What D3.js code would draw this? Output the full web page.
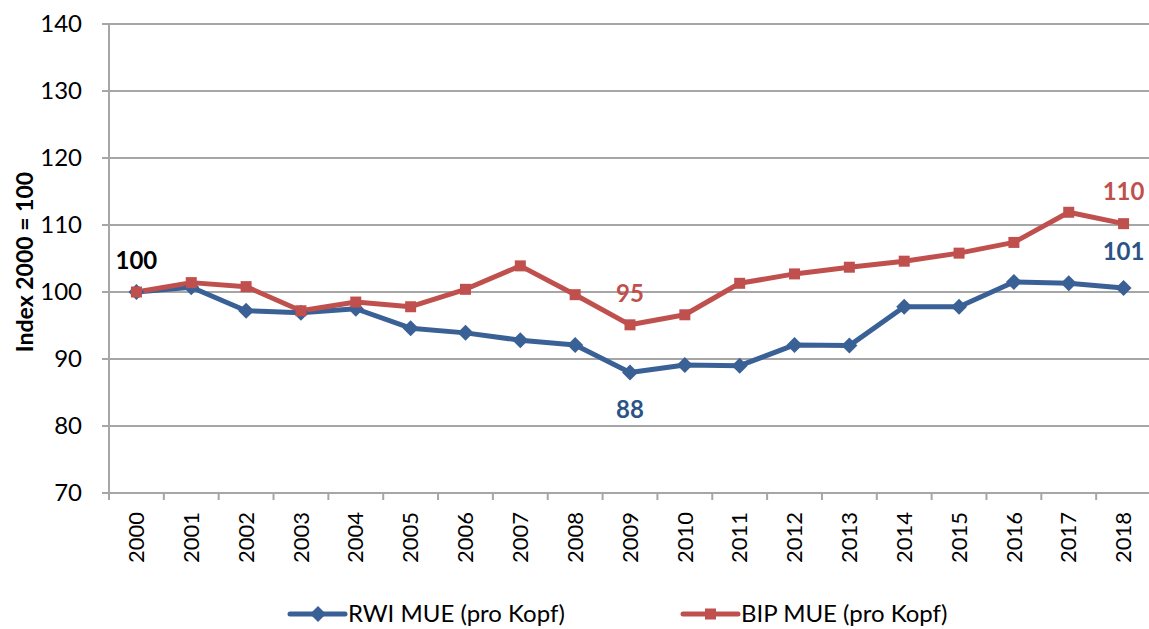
<!DOCTYPE html>
<head>
<meta charset="utf-8">
<script src="https://d3js.org/d3.v7.min.js"></script>
</head>
<style>
body { margin: 0; background: #fff; }
.grid line { stroke: #a6a6a6; stroke-width: 2px; }
.line { fill: none; stroke-width: 5px; stroke-linejoin: round; }
</style>
<body>
<script>
var years = ["2000","2001","2002","2003","2004","2005","2006","2007","2008","2009",
             "2010","2011","2012","2013","2014","2015","2016","2017","2018"];
var rwi = [100, 100.7, 97.2, 96.9, 97.5, 94.6, 93.9, 92.8, 92.1, 88.0,
           89.1, 89.0, 92.1, 92.0, 97.8, 97.8, 101.5, 101.3, 100.6];
var bip = [100, 101.4, 100.8, 97.2, 98.5, 97.8, 100.4, 103.9, 99.6, 95.1,
           96.6, 101.3, 102.7, 103.7, 104.6, 105.8, 107.4, 111.9, 110.2];
var yTicks = [70, 80, 90, 100, 110, 120, 130, 140];
var seriesNames = ["RWI MUE (pro Kopf)", "BIP MUE (pro Kopf)"];
// value labels: [style, year index, text]
var valueLabels = [["black", 0, "100"], ["bip", 9, "95"], ["rwi", 9, "88"], ["bip", 18, "110"], ["rwi", 18, "101"]];

var blue = "#3a6195", red = "#c0504d";
var margin = {top: 24, left: 109},
    width = 1151 - margin.left,
    height = 493 - margin.top;

var svg = d3.select("body").append("svg")
    .attr("width", 1149).attr("height", 629);
var g = svg.append("g").attr("transform", "translate(" + margin.left + "," + margin.top + ")");

var x = d3.scaleBand().domain(years).range([0, width]);
var y = d3.scaleLinear().domain([70, 140]).range([height, 0]);
var cx = function(i) { return x(years[i]) + x.bandwidth() / 2; };

// gridlines
g.append("g").attr("class", "grid")
  .selectAll("line").data(yTicks).enter().append("line")
    .attr("x1", -7).attr("x2", width)
    .attr("y1", function(d) { return y(d); }).attr("y2", function(d) { return y(d); });

// y axis
var yAxis = g.append("g")
    .call(d3.axisLeft(y).tickValues(yTicks).tickSize(7).tickPadding(20));
yAxis.select(".domain").attr("stroke", "#a6a6a6").attr("stroke-width", 2).attr("d", "M0," + height + "V0");
yAxis.selectAll(".tick line").remove();
yAxis.selectAll("text").attr("font-family", "Lato").attr("font-size", 24).attr("fill", "#000");

// x axis
var xAxis = g.append("g").attr("transform", "translate(0," + height + ")")
    .call(d3.axisBottom(x).tickSize(0));
xAxis.select(".domain").remove();
xAxis.selectAll(".tick text")
    .attr("font-family", "Lato").attr("font-size", 22).attr("fill", "#000")
    .attr("transform", "rotate(-90)").attr("text-anchor", "end")
    .attr("x", -19).attr("y", 0).attr("dy", "0.35em");
g.append("g").selectAll("line").data(years).enter().append("line")
    .attr("x1", function(d) { return x(d); }).attr("x2", function(d) { return x(d); })
    .attr("y1", height).attr("y2", height + 7)
    .attr("stroke", "#a6a6a6").attr("stroke-width", 2);

// lines
var line = d3.line().x(function(d, i) { return cx(i); }).y(function(d) { return y(d); });
g.append("path").datum(rwi).attr("class", "line").attr("stroke", blue).attr("d", line);
g.append("path").datum(bip).attr("class", "line").attr("stroke", red).attr("d", line);

var diamond = "M0,-8L8,0L0,8L-8,0Z";
g.selectAll(".dm").data(rwi).enter().append("path")
    .attr("d", diamond).attr("fill", blue)
    .attr("transform", function(d, i) { return "translate(" + cx(i) + "," + y(d) + ")"; });
g.selectAll(".sq").data(bip).enter().append("rect")
    .attr("x", function(d, i) { return cx(i) - 5.5; }).attr("y", function(d) { return y(d) - 5.5; })
    .attr("width", 11).attr("height", 11).attr("fill", red);

// value labels
var labelStyle = {black: {c: "#000", v: rwi}, bip: {c: red, v: bip}, rwi: {c: "#2c5385", v: rwi}};
valueLabels.forEach(function(l) {
  var s = labelStyle[l[0]], i = l[1], v = s.v[i], off;
  if (l[0] === "black") off = -31;
  else if (l[0] === "bip") off = (i === 9) ? -31 : -32;
  else off = (i === 9) ? 37 : -36;
  g.append("text").attr("x", cx(i)).attr("y", y(v) + off).attr("dy", "0.35em")
    .attr("text-anchor", "middle").attr("font-family", "Lato").attr("font-weight", "bold")
    .attr("font-size", 24).attr("fill", s.c).text(l[2]);
});

// y axis title
svg.append("text")
    .attr("transform", "translate(25,262) rotate(-90)")
    .attr("text-anchor", "middle").attr("dy", "0.35em")
    .attr("font-family", "Lato").attr("font-weight", "bold")
    .attr("font-size", 23).attr("fill", "#000").text("Index 2000 = 100");

// legend
var legend = svg.append("g").attr("transform", "translate(0,614)");
[[290, blue, "dm"], [683, red, "sq"]].forEach(function(e, k) {
  legend.append("line").attr("x1", e[0]).attr("x2", e[0] + 55).attr("y1", 0).attr("y2", 0)
    .attr("stroke", e[1]).attr("stroke-width", 5).attr("stroke-linecap", "round");
  if (e[2] === "dm")
    legend.append("path").attr("d", diamond).attr("fill", e[1]).attr("transform", "translate(" + (e[0] + 28) + ",0)");
  else
    legend.append("rect").attr("x", e[0] + 22).attr("y", -5.5).attr("width", 11).attr("height", 11).attr("fill", e[1]);
  legend.append("text").attr("x", e[0] + 58).attr("y", 0).attr("dy", "0.35em")
    .attr("font-family", "Lato").attr("font-size", 24).attr("fill", "#000").text(seriesNames[k]);
});
</script>
</body>
